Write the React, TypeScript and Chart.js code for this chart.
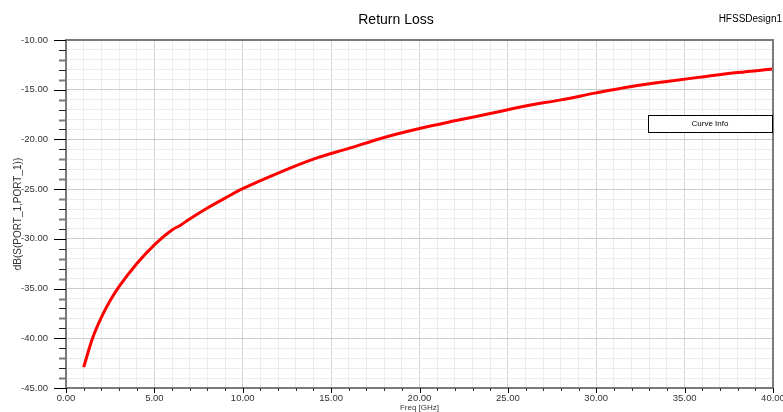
import { useEffect, useRef } from 'react';
import { Chart, registerables } from 'chart.js';

Chart.register(...registerables);

const freqGHz = [1, 1.5, 2, 2.5, 3, 4, 5, 6, 6.5, 7, 8, 9, 10, 12, 14, 16, 18, 20, 22, 24, 26, 28, 30, 32, 34, 36, 38, 40];
const returnLossDb = [-42.9, -40.0, -37.9, -36.2, -34.8, -32.5, -30.6, -29.1, -28.6, -28.0, -26.9, -25.9, -24.95, -23.38, -21.98, -20.9, -19.8, -18.9, -18.13, -17.4, -16.63, -16.02, -15.32, -14.68, -14.17, -13.71, -13.27, -12.92];

const xMin = 0;
const xMax = 40;
const yMin = -45;
const yMax = -10;

const chartTitle = 'Return Loss';
const designName = 'HFSSDesign1';
const legendText = 'Curve Info';
const xTitle = 'Freq [GHz]';
const yTitle = 'dB(S(PORT_1,PORT_1))';

const FONT = "'Liberation Sans', Arial, sans-serif";

const isMajor = (v: number) => Math.abs(v % 5) < 1e-9;

export default function App() {
  const ref = useRef<HTMLCanvasElement>(null);

  useEffect(() => {
    document.body.style.margin = '0';
    const canvas = ref.current!;

    const decor = {
      id: 'decor',
      afterDraw(chart: any) {
        const c = chart.ctx;
        const a = chart.chartArea;
        const xs = chart.scales.x;
        const ys = chart.scales.y;
        c.save();
        // frame top/right
        c.strokeStyle = '#7a7a7a';
        c.lineWidth = 2;
        c.beginPath();
        c.moveTo(a.left, a.top);
        c.lineTo(a.right, a.top);
        c.lineTo(a.right, a.bottom);
        c.stroke();
        // y ticks
        for (let v = yMin; v <= yMax; v += 1) {
          const py = Math.round(ys.getPixelForValue(v)) + 0.5;
          const major = isMajor(v);
          c.strokeStyle = major ? '#000' : (Math.abs(v) % 2 === 1 ? '#222' : '#777');
          c.lineWidth = major ? 1 : (Math.abs(v) % 2 === 1 ? 1 : 2);
          c.beginPath();
          c.moveTo(a.left - (major ? 12 : 7), py);
          c.lineTo(a.left, py);
          c.stroke();
        }
        // x ticks
        for (let v = xMin; v <= xMax; v += 1) {
          const px = Math.round(xs.getPixelForValue(v)) + 0.5;
          const major = isMajor(v);
          c.strokeStyle = major ? '#000' : '#333';
          c.lineWidth = 1;
          c.beginPath();
          c.moveTo(px, a.bottom);
          c.lineTo(px, a.bottom + (major ? 5 : 3));
          c.stroke();
        }
        // chart title
        c.fillStyle = '#000';
        c.font = `14px ${FONT}`;
        c.textAlign = 'center';
        c.textBaseline = 'middle';
        c.fillText(chartTitle, 396, 20);
        // design name
        c.font = `10px ${FONT}`;
        c.textAlign = 'right';
        c.fillText(designName, 782, 19);
        // curve info box
        const bx = a.right - 125;
        const by = a.top + 75;
        const bw = 124;
        const bh = 17;
        c.fillStyle = '#fff';
        c.fillRect(bx, by, bw, bh);
        c.strokeStyle = '#000';
        c.lineWidth = 1;
        c.strokeRect(bx + 0.5, by + 0.5, bw, bh);
        c.fillStyle = '#000';
        c.font = `8px ${FONT}`;
        c.textAlign = 'center';
        c.fillText(legendText, bx + bw / 2, by + bh / 2 + 0.5);
        c.restore();
      },
    };

    const chart = new Chart(canvas, {
      type: 'line',
      data: {
        datasets: [
          {
            label: yTitle,
            data: freqGHz.map((f, i) => ({ x: f, y: returnLossDb[i] })),
            borderColor: '#ff0000',
            borderWidth: 3,
            pointRadius: 0,
            cubicInterpolationMode: 'monotone',
            fill: false,
          },
        ],
      },
      options: {
        responsive: false,
        animation: false,
        layout: { padding: { left: 0, right: 10, top: 40, bottom: 0 } },
        plugins: {
          legend: { display: false },
          tooltip: { enabled: false },
          title: { display: false },
        },
        scales: {
          x: {
            type: 'linear',
            min: xMin,
            max: xMax,
            afterFit: (s: any) => {
              s.height = 24;
              s.paddingLeft = 0;
              s.paddingRight = 0;
            },
            ticks: {
              stepSize: 1,
              autoSkip: false,
              maxRotation: 0,
              padding: 0,
              color: '#333',
              font: { family: FONT, size: 9.5 },
              callback: (v: any) => (isMajor(Number(v)) ? Number(v).toFixed(2) : ''),
            },
            grid: {
              color: (c: any) => (c.tick && isMajor(c.tick.value) ? '#d4d4d4' : '#ececec'),
              tickLength: 5,
              tickColor: 'transparent',
            },
            border: { color: '#7a7a7a', width: 2 },
            title: {
              display: true,
              text: xTitle,
              color: '#333',
              font: { family: FONT, size: 8 },
              padding: { top: 0, bottom: -1 },
            },
          },
          y: {
            type: 'linear',
            min: yMin,
            max: yMax,
            afterFit: (s: any) => {
              s.width = 66;
              s.paddingTop = 0;
              s.paddingBottom = 0;
            },
            ticks: {
              stepSize: 1,
              autoSkip: false,
              padding: 6,
              color: '#333',
              font: { family: FONT, size: 9.5 },
              callback: (v: any) => (isMajor(Number(v)) ? Number(v).toFixed(2) : ''),
            },
            grid: {
              color: (c: any) => (c.tick && isMajor(c.tick.value) ? '#cccccc' : '#ececec'),
              tickLength: 12,
              tickColor: 'transparent',
            },
            border: { color: '#7a7a7a', width: 2 },
            title: {
              display: true,
              text: yTitle,
              color: '#333',
              font: { family: FONT, size: 10 },
              padding: { top: 12, bottom: 0 },
            },
          },
        },
      },
      plugins: [decor],
    } as any);

    return () => chart.destroy();
  }, []);

  return (
    <div style={{ width: 783, height: 412, position: 'relative', overflow: 'hidden' }}>
      <canvas ref={ref} width={783} height={412} />
    </div>
  );
}
